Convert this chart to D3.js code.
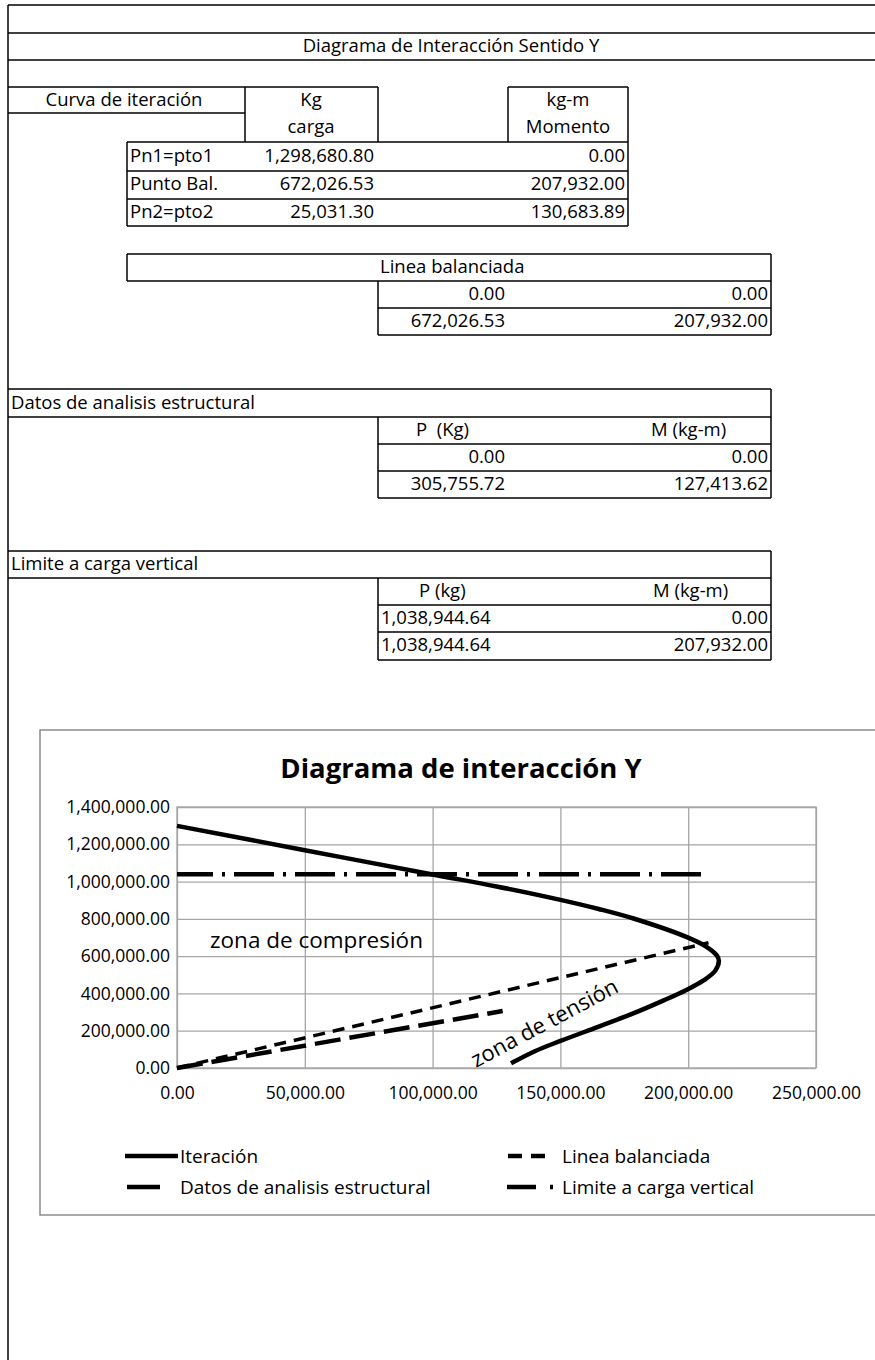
<!DOCTYPE html>
<html>
<head>
<meta charset="utf-8">
<script src="https://cdn.jsdelivr.net/npm/d3@7"></script>
<style>
  body { margin: 0; background: #fff; }
  svg { display: block; font-family: "Open Sans", Lato, sans-serif; }
  text { white-space: pre; }
</style>
</head>
<body>
<div id="sheet"></div>
<script>
(() => {
// --- datos de la hoja ---
const iterLabels = ["Pn1=pto1", "Punto Bal.", "Pn2=pto2"];
const iterCarga = [1298680.80, 672026.53, 25031.30];
const iterMomento = [0.00, 207932.00, 130683.89];

const balP = [0.00, 672026.53];
const balM = [0.00, 207932.00];

const datosP = [0.00, 305755.72];
const datosM = [0.00, 127413.62];

const limP = [1038944.64, 1038944.64];
const limM = [0.00, 207932.00];

// curva de interaccion (M en kg-m, P en kg)
const curveM = [0, 50000, 100000, 125000, 150000, 165000, 178600, 199500, 207300, 211200, 212000,
  210500, 206000, 199500, 190000, 178000, 165000, 150000, 140000, 130683.89];
const curveP = [1298680.80, 1168000, 1038000, 974000, 902000, 853000, 802000, 702000, 649000, 604000, 575000,
  520000, 470000, 420000, 360000, 290000, 222000, 145000, 90000, 25031.30];

const xTicks = [0, 50000, 100000, 150000, 200000, 250000];
const yTicks = [0, 200000, 400000, 600000, 800000, 1000000, 1200000, 1400000];

const fmt = d3.format(",.2f");

const width = 875;
const height = 1360;

const svg = d3.select("#sheet").append("svg")
  .attr("width", width)
  .attr("height", height);

svg.append("rect").attr("width", width).attr("height", height).attr("fill", "#fff");

const sheet = svg.append("g");

function hline(x1, x2, y) {
  sheet.append("line").attr("x1", x1).attr("x2", x2).attr("y1", y).attr("y2", y)
    .attr("stroke", "#000").attr("stroke-width", 1.5);
}
function vline(x, y1, y2) {
  sheet.append("line").attr("x1", x).attr("x2", x).attr("y1", y1).attr("y2", y2)
    .attr("stroke", "#000").attr("stroke-width", 1.5);
}
function cell(x, y, str, anchor) {
  sheet.append("text")
    .attr("x", x).attr("y", y)
    .attr("dy", "0.35em")
    .attr("text-anchor", anchor || "start")
    .style("font-size", "18.5px")
    .attr("fill", "#000")
    .text(str);
}

// marco de la hoja
vline(8, 5, height);
hline(8, width, 5);
hline(8, width, 33);
hline(8, width, 60);
cell(451, 46, "Diagrama de Interacción Sentido Y", "middle");

// tabla curva de iteracion
hline(8, 378, 87);
hline(508, 628, 87);
hline(8, 245, 113);
vline(245, 87, 142);
vline(378, 87, 142);
vline(508, 87, 142);
vline(628, 87, 226);
hline(127, 628, 142);
vline(127, 142, 226);
cell(124, 100, "Curva de iteración", "middle");
cell(311, 100, "Kg", "middle");
cell(311, 127, "carga", "middle");
cell(568, 100, "kg-m", "middle");
cell(568, 127, "Momento", "middle");

const rowY = [156, 184, 212];
const rowLines = [171, 199, 226];
iterLabels.forEach((lab, i) => {
  cell(130, rowY[i], lab);
  cell(374, rowY[i], fmt(iterCarga[i]), "end");
  cell(625, rowY[i], fmt(iterMomento[i]), "end");
  hline(127, 628, rowLines[i]);
});

// linea balanciada
hline(127, 771, 254);
vline(127, 254, 281);
vline(771, 254, 335);
hline(127, 771, 281);
vline(378, 281, 335);
hline(378, 771, 308);
hline(378, 771, 335);
cell(380, 267, "Linea balanciada");
balP.forEach((p, i) => {
  cell(505, 294 + i * 27, fmt(p), "end");
  cell(768, 294 + i * 27, fmt(balM[i]), "end");
});

// datos de analisis estructural
hline(8, 771, 389);
hline(8, 771, 417);
vline(771, 389, 498);
vline(378, 417, 498);
hline(378, 771, 444);
hline(378, 771, 471);
hline(378, 771, 498);
cell(11, 403, "Datos de analisis estructural");
cell(416, 430, "P  (Kg)");
cell(651, 430, "M (kg-m)");
datosP.forEach((p, i) => {
  cell(505, 457 + i * 27, fmt(p), "end");
  cell(768, 457 + i * 27, fmt(datosM[i]), "end");
});

// limite a carga vertical
hline(8, 771, 551);
hline(8, 771, 578);
vline(771, 551, 660);
vline(378, 578, 660);
hline(378, 771, 605);
hline(378, 771, 632);
hline(378, 771, 660);
cell(11, 564, "Limite a carga vertical");
cell(419, 591, "P (kg)");
cell(653, 591, "M (kg-m)");
limP.forEach((p, i) => {
  cell(381, 618 + i * 27, fmt(p));
  cell(768, 618 + i * 27, fmt(limM[i]), "end");
});

// --- grafico ---
const chart = svg.append("g");

chart.append("rect")
  .attr("x", 40).attr("y", 730)
  .attr("width", 850).attr("height", 485)
  .attr("fill", "#fff")
  .attr("stroke", "#8c8c8c")
  .attr("stroke-width", 1.5);

chart.append("text")
  .attr("x", 461).attr("y", 778)
  .attr("text-anchor", "middle")
  .style("font-size", "27.5px")
  .style("font-weight", "bold")
  .text("Diagrama de interacción Y");

const plot = { left: 177, right: 816, top: 807, bottom: 1068 };

const x = d3.scaleLinear().domain([0, 250000]).range([plot.left, plot.right]);
const y = d3.scaleLinear().domain([0, 1400000]).range([plot.bottom, plot.top]);

const yAxis = chart.append("g")
  .attr("transform", `translate(${plot.left},0)`)
  .call(d3.axisLeft(y).tickValues(yTicks).tickFormat(fmt)
    .tickSize(-(plot.right - plot.left)).tickPadding(7));

const xAxis = chart.append("g")
  .attr("transform", `translate(0,${plot.bottom})`)
  .call(d3.axisBottom(x).tickValues(xTicks).tickFormat(fmt)
    .tickSize(-(plot.bottom - plot.top)).tickPadding(19));

[yAxis, xAxis].forEach(ax => {
  ax.select(".domain").remove();
  ax.selectAll(".tick line").attr("stroke", "#a6a6a6").attr("stroke-width", 1.3);
  ax.selectAll(".tick text")
    .attr("fill", "#000")
    .style("font-family", "'Open Sans', sans-serif")
    .style("font-size", "17.5px");
});

chart.append("rect")
  .attr("x", plot.left).attr("y", plot.top)
  .attr("width", plot.right - plot.left).attr("height", plot.bottom - plot.top)
  .attr("fill", "none")
  .attr("stroke", "#a6a6a6")
  .attr("stroke-width", 1.3);

const line = d3.line().x(d => x(d.m)).y(d => y(d.p));

const series = [
  { name: "Limite a carga vertical", m: limM, p: limP, dash: "40,9,3,9", off: 4, w: 4.5, curve: d3.curveLinear },
  { name: "Linea balanciada", m: balM, p: balP, dash: "12,8", off: 0, w: 3.5, curve: d3.curveLinear },
  { name: "Datos de analisis estructural", m: datosM, p: datosP, dash: "26,9", off: 0, w: 4.5, curve: d3.curveLinear },
  { name: "Iteración", m: curveM, p: curveP, dash: null, off: 0, w: 4.5, curve: d3.curveCatmullRom }
];

series.forEach(s => {
  const pts = s.m.map((m, i) => ({ m: m, p: s.p[i] }));
  chart.append("path")
    .datum(pts)
    .attr("d", line.curve(s.curve))
    .attr("fill", "none")
    .attr("stroke", "#000")
    .attr("stroke-width", s.w)
    .attr("stroke-dasharray", s.dash)
    .attr("stroke-dashoffset", s.off)
    .attr("stroke-linecap", "butt");
});

// rotulos de zonas
chart.append("text")
  .attr("x", 210).attr("y", 948)
  .style("font-size", "22.5px")
  .text("zona de compresión");

chart.append("text")
  .attr("transform", "translate(476,1068) rotate(-28)")
  .style("font-size", "22px")
  .text("zona de tensión");

// leyenda
const legendItems = [
  { label: "Iteración", x1: 125, x2: 178, tx: 180, y: 1156, dash: null },
  { label: "Linea balanciada", x1: 508, x2: 553, tx: 562, y: 1156, dash: "14,9" },
  { label: "Datos de analisis estructural", x1: 127, x2: 160, tx: 180, y: 1187, dash: null },
  { label: "Limite a carga vertical", x1: 507, x2: 556, tx: 562, y: 1187, dash: "29,14,3,20" }
];

legendItems.forEach(it => {
  chart.append("line")
    .attr("x1", it.x1).attr("x2", it.x2)
    .attr("y1", it.y).attr("y2", it.y)
    .attr("stroke", "#000")
    .attr("stroke-width", 4.5)
    .attr("stroke-dasharray", it.dash);
  chart.append("text")
    .attr("x", it.tx).attr("y", it.y)
    .attr("dy", "0.35em")
    .style("font-size", "19px")
    .text(it.label);
});
})();
</script>
</body>
</html>
